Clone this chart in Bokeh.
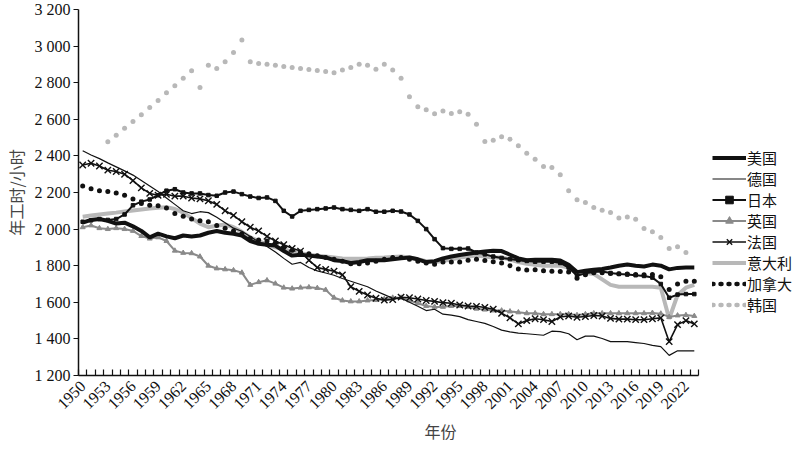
import math
import numpy as np
from bokeh.plotting import figure
from bokeh.models import (ColumnDataSource, FixedTicker, Range1d, Legend, LegendItem)
from bokeh.embed import file_html
from bokeh.resources import INLINE

years = list(range(1950, 2024))

usa = [2035, 2050, 2055, 2045, 2030, 2035, 2015, 1990, 1955, 1975,
       1960, 1950, 1965, 1960, 1965, 1980, 1990, 1980, 1975, 1965,
       1935, 1920, 1915, 1910, 1880, 1855, 1860, 1855, 1850, 1845,
       1830, 1825, 1815, 1820, 1830, 1830, 1830, 1835, 1840, 1845,
       1835, 1820, 1825, 1840, 1850, 1858, 1865, 1872, 1878, 1882,
       1880, 1860, 1840, 1830, 1832, 1832, 1832, 1828, 1805, 1765,
       1772, 1778, 1782, 1790, 1800, 1806, 1800, 1796, 1806, 1800,
       1780, 1788, 1790, 1790]

germany = [2428, 2405, 2385, 2362, 2340, 2318, 2295, 2265, 2235, 2205,
           2170, 2135, 2100, 2085, 2095, 2090, 2065, 2035, 2005, 1988,
           1960, 1930, 1905, 1875, 1840, 1808, 1818, 1790, 1772, 1760,
           1748, 1730, 1715, 1700, 1685, 1662, 1642, 1622, 1622, 1600,
           1578, 1555, 1562, 1535, 1530, 1522, 1505, 1495, 1485, 1468,
           1448, 1438, 1432, 1428, 1424, 1420, 1442, 1440, 1428, 1395,
           1415, 1415, 1402, 1385, 1385, 1385, 1380, 1375, 1365, 1358,
           1310, 1335, 1335, 1335]

japan = [2040, 2048, 2055, 2050, 2055, 2080, 2130, 2150, 2162, 2185,
         2210, 2218, 2200, 2195, 2195, 2186, 2182, 2200, 2205, 2191,
         2178, 2170, 2173, 2154, 2100, 2069, 2100, 2105, 2109, 2113,
         2118, 2109, 2105, 2100, 2109, 2095, 2095, 2100, 2096, 2080,
         2045, 2000, 1945, 1896, 1892, 1892, 1894, 1872, 1862, 1850,
         1842, 1836, 1830, 1826, 1822, 1822, 1822, 1815, 1790, 1745,
         1758, 1765, 1768, 1760, 1755, 1752, 1748, 1744, 1735, 1700,
         1625, 1642, 1645, 1645]

uk = [2010, 2020, 2005, 2000, 2005, 2000, 1990, 1962, 1948, 1955,
      1935, 1882, 1870, 1868, 1850, 1800, 1785, 1780, 1775, 1762,
      1695, 1710, 1720, 1702, 1680, 1675, 1680, 1682, 1678, 1668,
      1625, 1610, 1605, 1605, 1610, 1612, 1618, 1625, 1625, 1610,
      1595, 1580, 1575, 1575, 1580, 1580, 1575, 1565, 1560, 1555,
      1555, 1550, 1545, 1540, 1540, 1535, 1535, 1535, 1535, 1530,
      1535, 1540, 1540, 1540, 1540, 1540, 1540, 1540, 1542, 1538,
      1520, 1528, 1530, 1525]

france = [2350, 2360, 2345, 2322, 2315, 2300, 2265, 2225, 2195, 2185,
          2190, 2180, 2180, 2170, 2165, 2155, 2135, 2100, 2075, 2040,
          2010, 1990, 1960, 1935, 1915, 1895, 1880, 1830, 1790, 1780,
          1770, 1750, 1685, 1660, 1640, 1622, 1612, 1615, 1628, 1625,
          1618, 1610, 1605, 1598, 1595, 1585, 1580, 1578, 1572, 1562,
          1540, 1515, 1482, 1500, 1510, 1505, 1495, 1520, 1525, 1518,
          1522, 1528, 1525, 1512, 1508, 1508, 1505, 1505, 1510, 1515,
          1385, 1478, 1500, 1482]

italy = [2068, 2074, 2080, 2085, 2090, 2096, 2102, 2107, 2112, 2117,
         2120, 2110, 2090, 2060, 2030, 2010, 2018, 2025, 2010, 1985,
         1955, 1935, 1915, 1900, 1890, 1875, 1868, 1860, 1855, 1850,
         1845, 1840, 1838, 1838, 1840, 1843, 1845, 1848, 1850, 1845,
         1835, 1825, 1820, 1825, 1835, 1845, 1850, 1855, 1850, 1845,
         1845, 1835, 1820, 1810, 1805, 1800, 1800, 1800, 1790, 1760,
         1760, 1755, 1725, 1695, 1685, 1685, 1685, 1685, 1685, 1680,
         1510, 1640, 1680, 1695]

canada = [2235, 2220, 2210, 2205, 2197, 2185, 2165, 2140, 2130, 2127,
          2115, 2085, 2070, 2055, 2045, 2040, 2020, 2005, 1990, 1975,
          1950, 1940, 1935, 1925, 1900, 1885, 1875, 1865, 1855, 1845,
          1835, 1825, 1810, 1810, 1815, 1825, 1835, 1845, 1845, 1835,
          1825, 1815, 1808, 1820, 1820, 1820, 1830, 1835, 1828, 1822,
          1815, 1800, 1782, 1776, 1778, 1772, 1770, 1768, 1765, 1732,
          1750, 1762, 1762, 1758, 1756, 1754, 1752, 1750, 1752, 1740,
          1670, 1700, 1715, 1715]

korea = [None, None, None, 2477, 2513, 2551, 2588, 2625, 2664, 2703,
         2745, 2783, 2825, 2865, 2774, 2896, 2877, 2914, 2965, 3034,
         2914, 2905, 2901, 2896, 2888, 2883, 2877, 2872, 2866, 2861,
         2854, 2870, 2883, 2901, 2896, 2874, 2901, 2870, 2825, 2723,
         2668, 2652, 2630, 2646, 2632, 2641, 2628, 2573, 2479, 2486,
         2504, 2491, 2455, 2415, 2382, 2342, 2337, 2297, 2209, 2160,
         2145, 2118, 2103, 2091, 2060, 2066, 2054, 2003, 1985, 1954,
         1894, 1903, 1872, None]

names = ["美国", "德国", "日本", "英国", "法国", "意大利", "加拿大", "韩国"]

y_ticks = [1200, 1400, 1600, 1800, 2000, 2200, 2400, 2600, 2800, 3000, 3200]
x_label_years = list(range(1950, 2024, 3))

def nz(a):
    return [np.nan if v is None else v for v in a]

src = ColumnDataSource(dict(x=years, usa=usa, germany=germany, japan=japan, uk=uk,
                            france=france, italy=italy, canada=canada, korea=nz(korea)))

SERIF = "Liberation Serif"
CJK = "Noto Sans CJK SC"

AXIS_W = 620          # px covered by the year axis
FRAME_W = 724         # frame includes room for the legend on the right
x0 = years[0] - 0.5
x1 = years[-1] + 0.5
x_end = x0 + (x1 - x0) * FRAME_W / AXIS_W

p = figure(frame_width=FRAME_W, frame_height=366, output_backend="svg", toolbar_location=None,
           x_range=Range1d(x0, x_end),
           y_range=Range1d(y_ticks[0], y_ticks[-1]),
           min_border_left=10, min_border_top=9, min_border_right=0, min_border_bottom=10)
p.outline_line_color = None
p.xgrid.visible = False
p.ygrid.visible = False
p.background_fill_color = "white"

BLACK = "#111111"
GREY = "#8a8a8a"
LGREY = "#b8b8b8"

r_it = p.line("x", "italy", source=src, line_color=LGREY, line_width=4)
r_ko = p.scatter("x", "korea", source=src, marker="circle", size=5, fill_color=LGREY, line_color=None)
r_uk = p.line("x", "uk", source=src, line_color=GREY, line_width=2)
r_uk_m = p.scatter("x", "uk", source=src, marker="triangle", size=5, fill_color=GREY, line_color=GREY)
r_de = p.line("x", "germany", source=src, line_color=BLACK, line_width=1.2)
r_fr = p.line("x", "france", source=src, line_color=BLACK, line_width=1.6)
r_fr_m = p.scatter("x", "france", source=src, marker="x", size=9, line_color=BLACK, line_width=1.4)
r_jp = p.line("x", "japan", source=src, line_color=BLACK, line_width=2)
r_jp_m = p.scatter("x", "japan", source=src, marker="square", size=3.5, fill_color=BLACK, line_color=BLACK)
r_ca = p.scatter("x", "canada", source=src, marker="circle", size=5, fill_color=BLACK, line_color=None)
r_us = p.line("x", "usa", source=src, line_color=BLACK, line_width=4)

lg_src = ColumnDataSource(dict(x=[np.nan], y=[np.nan]))
l_ca = p.line("x", "y", source=lg_src, line_color=BLACK, line_width=4.5, line_dash="1 7", line_cap="round")
l_ko = p.line("x", "y", source=lg_src, line_color=LGREY, line_width=4.5, line_dash="1 7", line_cap="round")

items = [
    LegendItem(label=names[0], renderers=[r_us]),
    LegendItem(label=names[1], renderers=[r_de]),
    LegendItem(label=names[2], renderers=[r_jp, r_jp_m]),
    LegendItem(label=names[3], renderers=[r_uk, r_uk_m]),
    LegendItem(label=names[4], renderers=[r_fr, r_fr_m]),
    LegendItem(label=names[5], renderers=[r_it]),
    LegendItem(label=names[6], renderers=[l_ca]),
    LegendItem(label=names[7], renderers=[l_ko]),
]
legend = Legend(items=items, location=(634, 60), glyph_width=34, glyph_height=19,
                label_height=19, spacing=0, padding=0, margin=0, label_standoff=1,
                label_text_font=CJK, label_text_font_size="15px", label_text_color="#111111",
                label_text_line_height=0.8,
                border_line_color=None, background_fill_alpha=0)
p.add_layout(legend, "center")

# axes
p.xaxis.bounds = (x0, x1)
p.xaxis.ticker = FixedTicker(ticks=x_label_years,
                             minor_ticks=[y - 0.5 for y in years] + [years[-1] + 0.5])
p.xaxis.major_tick_line_color = None
p.xaxis.minor_tick_in = 6
p.xaxis.minor_tick_out = 0
p.xaxis.minor_tick_line_color = BLACK
p.xaxis.minor_tick_line_width = 1.2
p.xaxis.major_label_orientation = math.pi / 4
p.xaxis.major_label_text_font = SERIF
p.xaxis.major_label_text_font_size = "16px"
p.xaxis.major_label_text_color = BLACK
p.xaxis.major_label_standoff = 2
p.xaxis.axis_label = "年份"
p.xaxis.axis_label_text_font = CJK
p.xaxis.axis_label_text_font_size = "16px"
p.xaxis.axis_label_text_font_style = "normal"
p.xaxis.axis_label_standoff = 2
p.xaxis.axis_line_color = BLACK
p.xaxis.axis_line_width = 1.5

p.yaxis.ticker = FixedTicker(ticks=y_ticks, minor_ticks=[])
p.yaxis.major_label_overrides = {t: f"{t:,}".replace(",", " ") for t in y_ticks}
p.yaxis.major_tick_in = 0
p.yaxis.major_tick_out = 5
p.yaxis.major_tick_line_color = BLACK
p.yaxis.major_label_text_font = SERIF
p.yaxis.major_label_text_font_size = "16px"
p.yaxis.major_label_text_color = BLACK
p.yaxis.major_label_standoff = 3
p.yaxis.axis_label = "年工时/小时"
p.yaxis.axis_label_text_font = CJK
p.yaxis.axis_label_text_font_size = "16px"
p.yaxis.axis_label_text_font_style = "normal"
p.yaxis.axis_label_standoff = 4
p.yaxis.axis_line_color = BLACK
p.yaxis.axis_line_width = 1.5

open("out.html", "w").write(file_html(p, INLINE))
